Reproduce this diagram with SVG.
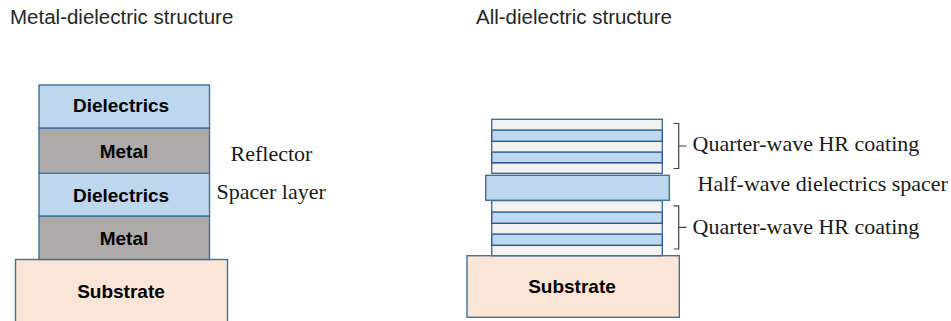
<svg xmlns="http://www.w3.org/2000/svg" width="951" height="321" viewBox="0 0 951 321">
<style>
.title{font-family:"Liberation Sans",Arial,sans-serif;font-size:20.5px;fill:#262626}
.lbl{font-family:"Liberation Sans",Arial,sans-serif;font-size:19px;font-weight:bold;fill:#000;text-anchor:middle}
.note{font-family:"Liberation Serif","Times New Roman",serif;font-size:22px;fill:#1a1a1a}
.diel{fill:#BDD7EE;stroke:#41719C;stroke-width:1.4}
.metal{fill:#AEAAAA;stroke:#41719C;stroke-width:1.4}
.sub{fill:#FBE5D6;stroke:#41719C;stroke-width:1.4}
.lo{fill:#F2F2F2;stroke:#41719C;stroke-width:1.4}
.hi{fill:#BDD7EE;stroke:#2F5597;stroke-width:1.4}
.br{fill:none;stroke:#404040;stroke-width:1.2}
</style>
<rect width="951" height="321" fill="#fff"/>
<g id="titles">
<text class="title" x="10" y="24">Metal-dielectric structure</text>
<text class="title" x="476" y="24">All-dielectric structure</text>
</g>
<g id="left-substrate">
<rect class="sub" x="15.5" y="259.5" width="212" height="64"/>
<text class="lbl" x="121" y="297.5">Substrate</text>
</g>
<g id="left-metal-2">
<rect class="metal" x="39" y="216" width="170.5" height="43.5"/>
<text class="lbl" x="124" y="245">Metal</text>
</g>
<g id="left-dielectric-2">
<rect class="diel" x="39" y="173.3" width="170.5" height="42.7"/>
<text class="lbl" x="121" y="201.5">Dielectrics</text>
</g>
<g id="left-metal-1">
<rect class="metal" x="39" y="128" width="170.5" height="45.3"/>
<text class="lbl" x="124" y="158">Metal</text>
</g>
<g id="left-dielectric-1">
<rect class="diel" x="39" y="85" width="170.5" height="43"/>
<text class="lbl" x="121" y="112.3">Dielectrics</text>
</g>
<g id="left-notes">
<text class="note" x="230.5" y="161">Reflector</text>
<text class="note" x="216.5" y="198.5">Spacer layer</text>
</g>
<g id="right-substrate">
<rect class="sub" x="467" y="255.7" width="212.3" height="61.6"/>
<text class="lbl" x="572" y="292.7">Substrate</text>
</g>
<g id="right-lower-hr">
<rect class="lo" x="491.7" y="245.3" width="170.6" height="10.4"/>
<rect class="hi" x="491.7" y="234" width="170.6" height="11.3"/>
<rect class="lo" x="491.7" y="223.3" width="170.6" height="10.7"/>
<rect class="hi" x="491.7" y="212" width="170.6" height="11.3"/>
<rect class="lo" x="491.7" y="200.6" width="170.6" height="11.4"/>
</g>
<g id="right-spacer">
<rect class="diel" x="485.7" y="175.3" width="183.6" height="25"/>
</g>
<g id="right-upper-hr">
<rect class="lo" x="491.7" y="162.7" width="170.6" height="10.6"/>
<rect class="hi" x="491.7" y="152" width="170.6" height="10.7"/>
<rect class="lo" x="491.7" y="141.3" width="170.6" height="10.7"/>
<rect class="hi" x="491.7" y="130" width="170.6" height="11.3"/>
<rect class="lo" x="491.7" y="119.3" width="170.6" height="10.7"/>
</g>
<g id="connectors">
<path class="br" d="M673.5,123.5 H678.7 V168.5 H673.5 M678.7,146 H686.5"/>
<path class="br" d="M673.5,205.8 H678.7 V249 H673.5 M678.7,227.4 H686.5"/>
</g>
<g id="right-notes">
<text class="note" x="692.5" y="150.7">Quarter-wave HR coating</text>
<text class="note" x="697.5" y="191">Half-wave dielectrics spacer</text>
<text class="note" x="692.5" y="234">Quarter-wave HR coating</text>
</g>
</svg>
